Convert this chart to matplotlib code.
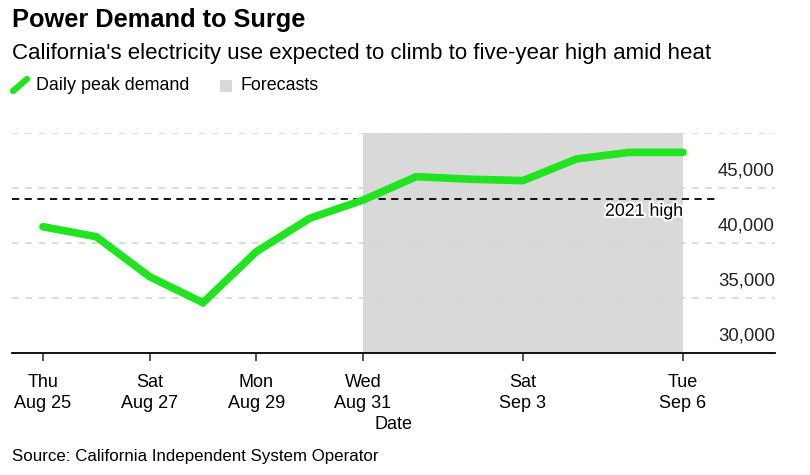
import matplotlib.pyplot as plt
import matplotlib.dates as mdates
import matplotlib.patheffects as pe
from matplotlib.lines import Line2D
from matplotlib.patches import Rectangle
import numpy as np

plt.rcParams['font.family'] = ['Liberation Sans', 'DejaVu Sans']

# daily peak demand, MW
dates = np.arange(np.datetime64('2022-08-25'), np.datetime64('2022-09-07'))
demand = [41480, 40570, 36940, 34570, 39210, 42240, 43900,
          46030, 45800, 45670, 47640, 48240, 48240]
high_2021 = 44000
forecast_start = np.datetime64('2022-08-31')
forecast_end = np.datetime64('2022-09-06')

tick_dates = ['2022-08-25', '2022-08-27', '2022-08-29', '2022-08-31', '2022-09-03', '2022-09-06']
tick_labels = ['Thu\nAug 25', 'Sat\nAug 27', 'Mon\nAug 29', 'Wed\nAug 31', 'Sat\nSep 3', 'Tue\nSep 6']
y_ticks = [30000, 35000, 40000, 45000]
grid_y = [30000, 35000, 40000, 45000, 50000]

green = '#1fe41f'
shade = '#d9d9d9'

fig = plt.figure(figsize=(8.1, 4.75), dpi=100)
ax = fig.add_axes([12/810, 1-353/475, (775-12)/810, (353-133)/475])

d0 = mdates.date2num(dates[0])
xmin = d0 - 0.58
xmax = mdates.date2num(dates[-1]) + 1.725
ax.set_xlim(xmin, xmax)
ax.set_ylim(30000, 50000)

ax.axvspan(mdates.date2num(forecast_start), mdates.date2num(forecast_end), color=shade, lw=0, zorder=0)
for g in grid_y[1:]:
    ax.axhline(g, color='#d6d6d6', lw=1.2, ls=(0, (4, 4)), zorder=1)

ax.plot([xmin, mdates.date2num(dates[-1]) + 0.6], [high_2021, high_2021],
        color='black', lw=1.3, ls=(0, (4, 3)), zorder=2)
ax.text(mdates.date2num(forecast_end), high_2021 - 350, '2021 high', ha='right', va='top',
        fontsize=12.8, zorder=3, path_effects=[pe.withStroke(linewidth=3, foreground='white')])

ax.plot(mdates.date2num(dates), demand, color=green, lw=5.5, solid_capstyle='round',
        solid_joinstyle='miter', zorder=4)

for v in y_ticks:
    ax.annotate(f'{v:,}', xy=(1, v), xycoords=('axes fraction', 'data'),
                xytext=(0, 6), textcoords='offset points', ha='right', va='bottom',
                fontsize=13.3, color='#222222')

for s in ['top', 'right', 'left']:
    ax.spines[s].set_visible(False)
ax.spines['bottom'].set_linewidth(1.3)
ax.set_yticks([])
ax.set_xticks([mdates.date2num(np.datetime64(t)) for t in tick_dates])
ax.set_xticklabels(tick_labels, fontsize=13, linespacing=1.3)
ax.tick_params(axis='x', length=6, width=1.2, pad=9, color='#333333')
ax.set_xlabel('Date', fontsize=13, labelpad=3)

fig.text(12/810, 1-20/475, 'Power Demand to Surge', fontsize=18.3, weight='bold', va='center')
fig.text(12/810, 1-53/475, "California's electricity use expected to climb to five-year high amid heat",
         fontsize=16, va='center')
fig.add_artist(Line2D([13/810, 27/810], [1-91/475, 1-79/475], color=green, lw=4.5, solid_capstyle='round'))
fig.text(36/810, 1-86/475, 'Daily peak demand', fontsize=12.9, va='center')
fig.add_artist(Rectangle((220/810, 1-92/475), 12/810, 12/475, color=shade, lw=0))
fig.text(240/810, 1-86/475, 'Forecasts', fontsize=12.9, va='center')
fig.text(12/810, 1-457/475, 'Source: California Independent System Operator', fontsize=12.2, va='center')

fig.savefig('out.png', dpi=100)
